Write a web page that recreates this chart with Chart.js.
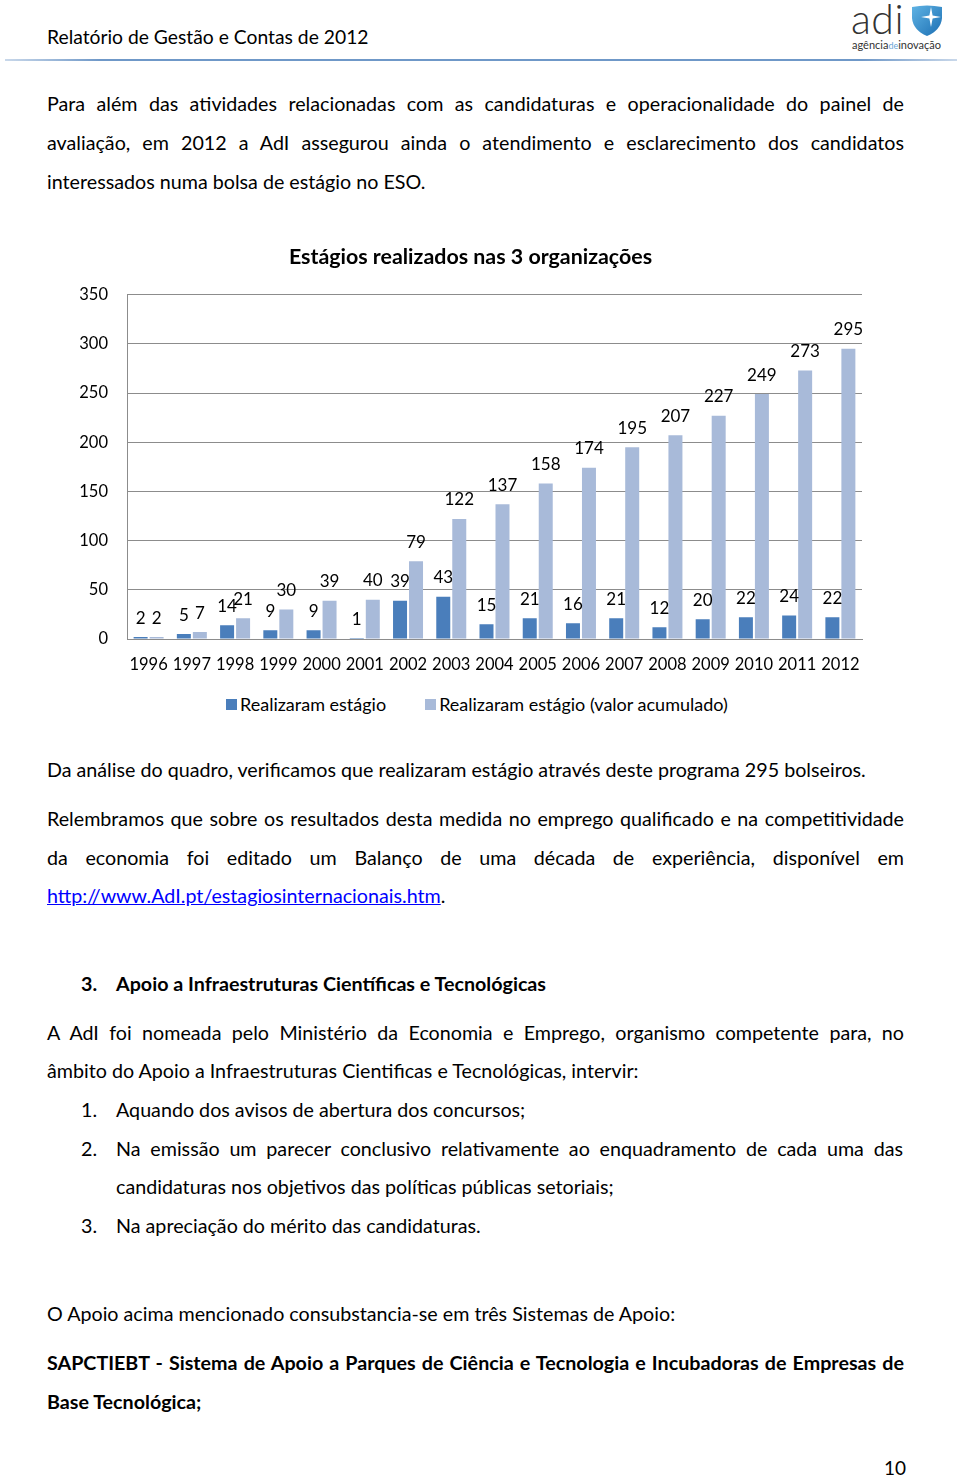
<!DOCTYPE html>
<html lang="pt">
<head>
<meta charset="utf-8">
<title>Relatório de Gestão e Contas de 2012</title>
<script src="https://cdn.jsdelivr.net/npm/chart.js"></script>
<style>
    html, body { margin: 0; padding: 0; background: #fff; }
    body { width: 960px; height: 1476px; position: relative; overflow: hidden;
           font-family: Lato, "Open Sans", sans-serif; font-size: 19.7px; color: #000; }
    .ln { position: absolute; left: 47px; height: 30px; line-height: 30px; white-space: nowrap; }
    .j { width: 857px; text-align: justify; text-align-last: justify; white-space: normal; }
    .b { font-weight: bold; }
    .num { left: 81px; }
    .ind { left: 116px; }
    .ind.j { width: 787px; }
    a { color: #0000ff; text-decoration: underline; }
    #header { position: absolute; left: 47px; top: 22px; font-size: 19.3px; line-height: 30px; }
    #rule { position: absolute; left: 5px; top: 59px; width: 952px; height: 2px;
            background: linear-gradient(to right, #c9d8ea, #6f98c8 10%, #6f98c8 90%, #c9d8ea); }
    #logo { position: absolute; left: 850px; top: 0; width: 100px; height: 56px; }
    #logo .adi { position: absolute; left: 1px; top: -4px; font-size: 41px; font-weight: 300; color: #333; line-height: 46px; letter-spacing: 0.5px; }
    #logo .sub { position: absolute; left: 2px; top: 38px; font-size: 11px; color: #333; line-height: 14px; white-space: nowrap; }
    #logo .sub span { color: #6aa6d6; font-size: 9px; }
    #logo svg { position: absolute; left: 61px; top: 5px; }
    #chartBox { position: absolute; left: 65px; top: 236px; width: 820px; height: 441px; }
    #legend { position: absolute; left: 226px; top: 690px; height: 28px; display: flex; gap: 39px;
              font-size: 18px; line-height: 28px; white-space: nowrap; }
    #legend .item { display: flex; align-items: center; gap: 3px; }
    #legend .box { width: 11px; height: 11px; }
    #page { position: absolute; left: 884px; top: 1453px; font-size: 19px; line-height: 30px; }
</style>
</head>
<body>

<div id="header">Relatório de Gestão e Contas de 2012</div>
<div id="logo">
    <div class="adi">adi</div>
    <svg width="32" height="32" viewBox="0 0 32 32">
        <defs>
            <linearGradient id="sg" x1="0" y1="0" x2="1" y2="1">
                <stop offset="0" stop-color="#5fb3e4"/>
                <stop offset="1" stop-color="#1c6fb3"/>
            </linearGradient>
        </defs>
        <path d="M1 2 Q16 -1 31 2 L31 13 Q30 25 16 31 Q2 25 1 13 Z" fill="url(#sg)"/>
        <path d="M20 2 L21.6 10.4 L30 12 L21.6 13.6 L20 22 L18.4 13.6 L10 12 L18.4 10.4 Z" fill="#fff"/>
    </svg>
    <div class="sub">agência<span>de</span>inovação</div>
</div>
<div id="rule"></div>

<div class="ln j" style="top:89px">Para além das atividades relacionadas com as candidaturas e operacionalidade do painel de</div>
<div class="ln j" style="top:128px">avaliação, em 2012 a AdI assegurou ainda o atendimento e esclarecimento dos candidatos</div>
<div class="ln" style="top:167px">interessados numa bolsa de estágio no ESO.</div>

<div id="chartBox"><canvas id="estagiosChart"></canvas></div>
<div id="legend"></div>

<div class="ln" style="top:755px">Da análise do quadro, verificamos que realizaram estágio através deste programa 295 bolseiros.</div>
<div class="ln j" style="top:804px">Relembramos que sobre os resultados desta medida no emprego qualificado e na competitividade</div>
<div class="ln j" style="top:843px">da economia foi editado um Balanço de uma década de experiência, disponível em</div>
<div class="ln" style="top:881px"><a href="#">http://www.AdI.pt/estagiosinternacionais.htm</a>.</div>

<div class="ln b num" style="top:969px">3.</div>
<div class="ln b ind" style="top:969px">Apoio a Infraestruturas Científicas e Tecnológicas</div>

<div class="ln j" style="top:1018px">A AdI foi nomeada pelo Ministério da Economia e Emprego, organismo competente para, no</div>
<div class="ln" style="top:1056px">âmbito do Apoio a Infraestruturas Cientificas e Tecnológicas, intervir:</div>

<div class="ln num" style="top:1095px">1.</div>
<div class="ln ind" style="top:1095px">Aquando dos avisos de abertura dos concursos;</div>
<div class="ln num" style="top:1134px">2.</div>
<div class="ln ind j" style="top:1134px">Na emissão um parecer conclusivo relativamente ao enquadramento de cada uma das</div>
<div class="ln ind" style="top:1172px">candidaturas nos objetivos das políticas públicas setoriais;</div>
<div class="ln num" style="top:1211px">3.</div>
<div class="ln ind" style="top:1211px">Na apreciação do mérito das candidaturas.</div>

<div class="ln" style="top:1299px">O Apoio acima mencionado consubstancia-se em três Sistemas de Apoio:</div>
<div class="ln j b" style="top:1348px">SAPCTIEBT - Sistema de Apoio a Parques de Ciência e Tecnologia e Incubadoras de Empresas de</div>
<div class="ln b" style="top:1387px">Base Tecnológica;</div>

<div id="page">10</div>

<script>
    const years = ['1996', '1997', '1998', '1999', '2000', '2001', '2002', '2003', '2004',
                   '2005', '2006', '2007', '2008', '2009', '2010', '2011', '2012'];
    const realizaram = [2, 5, 14, 9, 9, 1, 39, 43, 15, 21, 16, 21, 12, 20, 22, 24, 22];
    const acumulado = [2, 7, 21, 30, 39, 40, 79, 122, 137, 158, 174, 195, 207, 227, 249, 273, 295];
    const seriesNames = ['Realizaram estágio', 'Realizaram estágio (valor acumulado)'];
    const seriesColors = ['#4a7ebb', '#a8bad9'];
    const yMax = 350;
    const yStep = 50;

    Chart.defaults.font.family = 'Lato, "Open Sans", sans-serif';

    // values above each bar, like the Excel data labels
    const valueLabels = {
        id: 'valueLabels',
        afterDatasetsDraw(chart) {
            const ctx = chart.ctx;
            ctx.save();
            ctx.font = '17px Lato, "Open Sans", sans-serif';
            ctx.fillStyle = '#000';
            ctx.textAlign = 'center';
            ctx.textBaseline = 'middle';
            chart.data.datasets.forEach((ds, i) => {
                chart.getDatasetMeta(i).data.forEach((bar, j) => {
                    ctx.fillText(ds.data[j], bar.x, bar.y - 19);
                });
            });
            ctx.restore();
        }
    };

    const chart = new Chart(document.getElementById('estagiosChart'), {
        type: 'bar',
        data: {
            labels: years,
            datasets: [{
                label: seriesNames[0],
                data: realizaram,
                backgroundColor: seriesColors[0],
                borderWidth: 0,
                categoryPercentage: 0.74,
                barPercentage: 0.875
            }, {
                label: seriesNames[1],
                data: acumulado,
                backgroundColor: seriesColors[1],
                borderWidth: 0,
                categoryPercentage: 0.74,
                barPercentage: 0.875
            }]
        },
        options: {
            responsive: true,
            maintainAspectRatio: false,
            animation: false,
            layout: { padding: { left: 14, right: 23, top: 0, bottom: 2 } },
            plugins: {
                title: {
                    display: true,
                    text: 'Estágios realizados nas 3 organizações',
                    color: '#000',
                    font: { size: 21.4, weight: 'bold' },
                    padding: { top: 8, bottom: 25 }
                },
                legend: { display: false },
                tooltip: { enabled: false }
            },
            scales: {
                x: {
                    grid: { display: false, drawTicks: false },
                    border: { display: true, color: '#8c8c8c' },
                    ticks: { color: '#000', font: { size: 16.5 }, padding: 16, maxRotation: 0, autoSkip: false },
                    afterFit: s => { s.height = 36; }
                },
                y: {
                    min: 0,
                    max: yMax,
                    ticks: { stepSize: yStep, color: '#000', font: { size: 16.5 }, padding: 19 },
                    grid: { color: '#8c8c8c', drawTicks: false },
                    border: { color: '#8c8c8c' },
                    afterFit: s => { s.width = 48; }
                }
            }
        },
        plugins: [valueLabels]
    });

    // html legend under the chart
    const legendEl = document.getElementById('legend');
    chart.data.datasets.forEach(ds => {
        const item = document.createElement('div');
        item.className = 'item';
        const box = document.createElement('span');
        box.className = 'box';
        box.style.background = ds.backgroundColor;
        const txt = document.createElement('span');
        txt.textContent = ds.label;
        item.appendChild(box);
        item.appendChild(txt);
        legendEl.appendChild(item);
    });
</script>
</body>
</html>
